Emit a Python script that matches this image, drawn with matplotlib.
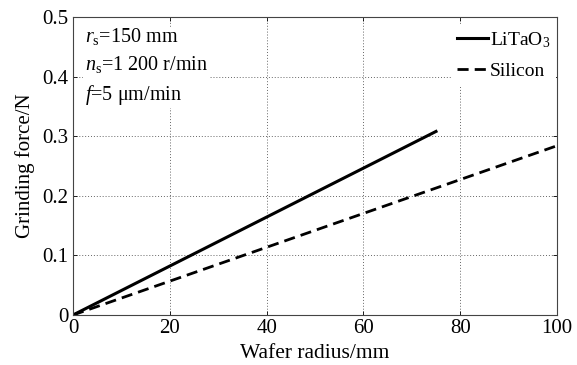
import matplotlib
matplotlib.use('Agg')
import matplotlib.pyplot as plt
import numpy as np

plt.rcParams['font.family'] = ['Liberation Serif', 'DejaVu Serif']
plt.rcParams['mathtext.fontset'] = 'custom'
plt.rcParams['mathtext.rm'] = 'Liberation Serif'
plt.rcParams['mathtext.it'] = 'Liberation Serif:italic'

# data
litao3_x = [0, 75]
litao3_y = [0, 0.308]
silicon_x = [0, 100]
silicon_y = [0, 0.284]
xticks = [0, 20, 40, 60, 80, 100]
yticks = [0, 0.1, 0.2, 0.3, 0.4, 0.5]
ytick_labels = ['0', '0.1', '0.2', '0.3', '0.4', '0.5']

fig = plt.figure(figsize=(5.77, 3.65), dpi=100)
ax = fig.add_axes([73 / 577, 1 - 315 / 365, 484 / 577, 298 / 365])

ax.plot(litao3_x, litao3_y, color='black', lw=2.2, label='LiTaO$_3$')
ax.plot(silicon_x, silicon_y, color='black', lw=2.0, ls=(0, (4, 2.2)), label='Silicon')

ax.set_xlim(0, 100)
ax.set_ylim(0, 0.5)
ax.set_xticks(xticks)
ax.set_yticks(yticks)
ax.set_yticklabels(ytick_labels)
ax.tick_params(direction='in', length=3, labelsize=15, colors='black', width=0.6,
               top=True, right=True)
ax.tick_params(axis='x', pad=3)
ax.grid(True, ls=(0, (1, 2)), color='#666666', lw=0.7)
for s in ax.spines.values():
    s.set_linewidth(0.8)
    s.set_color('#444444')

ax.set_xlabel('Wafer radius/mm', fontsize=15.5, labelpad=4)
ax.set_ylabel('Grinding force/N', fontsize=15, labelpad=5)

txt = '$r_\\mathrm{s}$=150 mm\n$n_\\mathrm{s}$=1 200 r/min\n$f$=5 μm/min'
ax.text(2.4, 0.485, txt, fontsize=14.5, va='top', ha='left', linespacing=1.45,
        bbox=dict(facecolor='white', edgecolor='none', pad=1), zorder=5)

leg = ax.legend(loc='upper right', bbox_to_anchor=(0.998, 0.975), fontsize=14,
                frameon=True, handlelength=1.6, handletextpad=0.1,
                borderaxespad=0.0, labelspacing=0.65, borderpad=0.3)
leg.get_frame().set_edgecolor('none')
leg.get_frame().set_facecolor('white')
leg.get_frame().set_alpha(1)

fig.savefig('out.png', dpi=100)
